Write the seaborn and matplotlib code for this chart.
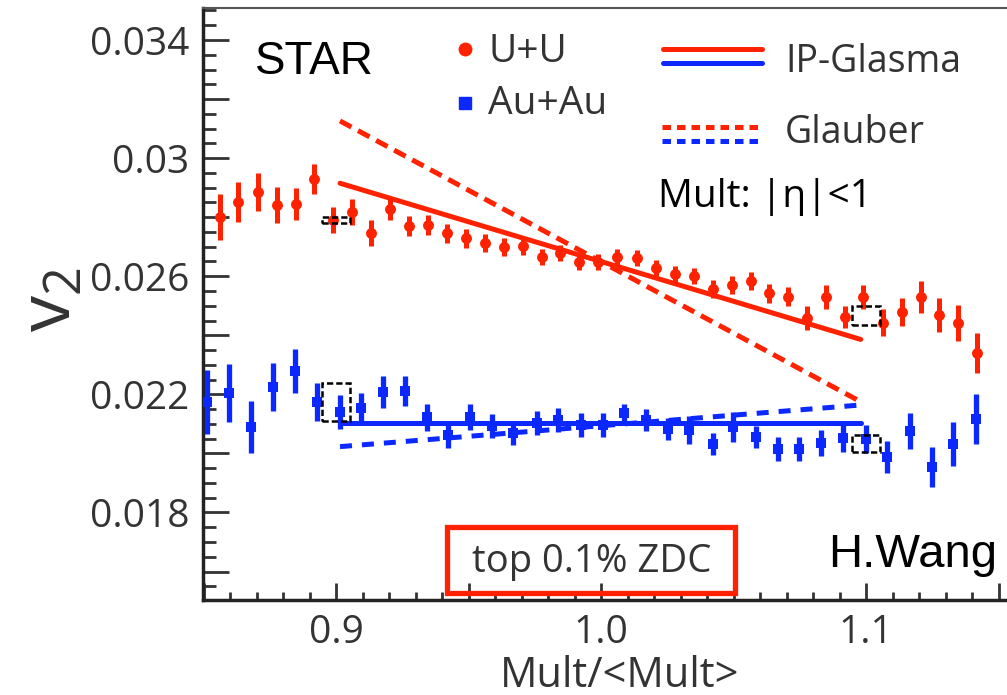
import numpy as np
import pandas as pd
import matplotlib
matplotlib.use("Agg")
import matplotlib.pyplot as plt
import seaborn as sns
from matplotlib.ticker import MultipleLocator, FuncFormatter
from matplotlib.patches import Rectangle
from matplotlib.lines import Line2D

# ---------------- data ----------------
uu_x = [0.8562, 0.8631, 0.8705, 0.8776, 0.8849, 0.8918, 0.8988, 0.9059, 0.9132, 0.9204,
        0.9275, 0.9346, 0.9418, 0.9491, 0.9562, 0.9634, 0.9705, 0.9776, 0.9845, 0.9918,
        0.9990, 1.0062, 1.0135, 1.0208, 1.0279, 1.0351, 1.0422, 1.0493, 1.0565, 1.0635,
        1.0707, 1.0778, 1.0849, 1.0921, 1.0990, 1.1063, 1.1135, 1.1206, 1.1277, 1.1348,
        1.1420]
uu_v2 = [0.02802, 0.02852, 0.02886, 0.02841, 0.02845, 0.02928, 0.02790, 0.02819, 0.02745, 0.02827,
         0.02770, 0.02774, 0.02745, 0.02728, 0.02712, 0.02698, 0.02702, 0.02666, 0.02678, 0.02649,
         0.02649, 0.02664, 0.02661, 0.02627, 0.02608, 0.02601, 0.02556, 0.02570, 0.02585, 0.02542,
         0.02531, 0.02458, 0.02529, 0.02461, 0.02529, 0.02443, 0.02480, 0.02529, 0.02469, 0.02441,
         0.02341]
uu_err = [0.00078, 0.00068, 0.00064, 0.00061, 0.00054, 0.00051, 0.00044, 0.00044, 0.00044, 0.00037,
          0.00034, 0.00034, 0.00031, 0.00031, 0.00031, 0.00031, 0.00031, 0.00027, 0.00027, 0.00027,
          0.00027, 0.00027, 0.00027, 0.00027, 0.00027, 0.00027, 0.00031, 0.00031, 0.00031, 0.00031,
          0.00031, 0.00041, 0.00041, 0.00037, 0.00041, 0.00047, 0.00047, 0.00054, 0.00058, 0.00061,
          0.00068]

au_x = [0.8512, 0.8597, 0.8679, 0.8761, 0.8845, 0.8927, 0.9015, 0.9094, 0.9177, 0.9260,
        0.9342, 0.9424, 0.9506, 0.9587, 0.9669, 0.9757, 0.9839, 0.9923, 1.0006, 1.0088,
        1.0170, 1.0252, 1.0333, 1.0421, 1.0499, 1.0585, 1.0669, 1.0748, 1.0829, 1.0914,
        1.1000, 1.1080, 1.1166, 1.1248, 1.1329, 1.1415]
au_v2 = [0.02175, 0.02206, 0.02088, 0.02226, 0.02280, 0.02175, 0.02141, 0.02153, 0.02209, 0.02211,
         0.02122, 0.02062, 0.02124, 0.02093, 0.02070, 0.02102, 0.02113, 0.02096, 0.02096, 0.02138,
         0.02113, 0.02082, 0.02079, 0.02032, 0.02088, 0.02057, 0.02014, 0.02014, 0.02034, 0.02051,
         0.02048, 0.01989, 0.02077, 0.01953, 0.02032, 0.02116]
au_err = [0.00108, 0.00098, 0.00088, 0.00081, 0.00075, 0.00064, 0.00058, 0.00051, 0.00054, 0.00051,
          0.00047, 0.00044, 0.00044, 0.00041, 0.00041, 0.00041, 0.00041, 0.00041, 0.00041, 0.00031,
          0.00037, 0.00037, 0.00047, 0.00037, 0.00051, 0.00037, 0.00041, 0.00041, 0.00044, 0.00047,
          0.00047, 0.00054, 0.00061, 0.00068, 0.00075, 0.00085]

model_x = [0.9015, 1.0980]
ipglasma_uu = [0.02915, 0.02386]
ipglasma_au = [0.02102, 0.02102]
glauber_uu = [0.03126, 0.02175]
glauber_au = [0.02023, 0.02164]

sys_x = [0.9, 1.1]
sys_uu = [0.02790, 0.02467]
sys_uu_half = [0.00011, 0.00032]
sys_au = [0.02175, 0.02034]
sys_au_half = [0.00064, 0.00028]

ytick_vals = [0.018, 0.022, 0.026, 0.030, 0.034]
ytick_labels = ["0.018", "0.022", "0.026", "0.03", "0.034"]
xtick_vals = [0.9, 1.0, 1.1]
xtick_labels = ["0.9", "1.0", "1.1"]

RED = "#ff2200"
BLUE = "#0a28ff"
GRAY = "#333333"
W, H = 1007, 695

sns.set_theme(style="ticks")
plt.rcParams["font.family"] = ["Open Sans", "DejaVu Sans"]

fig = plt.figure(figsize=(W / 100, H / 100), dpi=100)
ax = fig.add_axes([203 / W, 1 - 600 / H, 1 - 203 / W, (600 - 8) / H])


def fx(px):
    return px / W


def fy(py):
    return 1 - py / H


uu = pd.DataFrame({"x": uu_x, "v2": uu_v2, "err": uu_err})
au = pd.DataFrame({"x": au_x, "v2": au_v2, "err": au_err})

# error bars + markers
ax.errorbar(uu["x"], uu["v2"], yerr=uu["err"], fmt="none", ecolor=RED, elinewidth=3.6, capsize=0, zorder=3)
ax.errorbar(au["x"], au["v2"], yerr=au["err"], fmt="none", ecolor=BLUE, elinewidth=3.8, capsize=0, zorder=3)
sns.scatterplot(data=uu, x="x", y="v2", ax=ax, color=RED, marker="o", s=62, edgecolor=RED, linewidth=0, zorder=4)
sns.scatterplot(data=au, x="x", y="v2", ax=ax, color=BLUE, marker="s", s=46, edgecolor=BLUE, linewidth=0, zorder=4)

# model lines
mdf = pd.DataFrame({"x": model_x, "ipu": ipglasma_uu, "ipa": ipglasma_au, "glu": glauber_uu, "gla": glauber_au})
sns.lineplot(data=mdf, x="x", y="ipu", ax=ax, color=RED, lw=3.6, zorder=5)
sns.lineplot(data=mdf, x="x", y="ipa", ax=ax, color=BLUE, lw=3.6, zorder=5)
l1 = sns.lineplot(data=mdf, x="x", y="glu", ax=ax, color=RED, lw=3.6, zorder=5)
l1.lines[-1].set_dashes((2.6, 1.5))
l2 = sns.lineplot(data=mdf, x="x", y="gla", ax=ax, color=BLUE, lw=3.6, zorder=5)
l2.lines[-1].set_dashes((2.4, 2.0))

# systematic boxes
for xs, ys, hs in [(sys_x, sys_uu, sys_uu_half), (sys_x, sys_au, sys_au_half)]:
    for xc, yc, h in zip(xs, ys, hs):
        ax.add_patch(Rectangle((xc - 0.0053, yc - h), 0.0106, 2 * h, fill=False, ec="black",
                               lw=1.8, ls=(0, (2.5, 1.2)), zorder=6))

ax.set_xlim(0.8498, 1.1532)
ax.set_ylim(0.015036, 0.035084)

# ticks
ylab_map = dict((round(a, 4), b) for a, b in zip(ytick_vals, ytick_labels))
xlab_map = dict((round(a, 3), b) for a, b in zip(xtick_vals, xtick_labels))
ax.yaxis.set_major_locator(MultipleLocator(0.002))
ax.yaxis.set_minor_locator(MultipleLocator(0.0005))
ax.yaxis.set_major_formatter(FuncFormatter(lambda v, p: ylab_map.get(round(v, 4), "")))
ax.xaxis.set_major_locator(MultipleLocator(0.05))
ax.xaxis.set_minor_locator(MultipleLocator(0.01))
ax.xaxis.set_major_formatter(FuncFormatter(lambda v, p: xlab_map.get(round(v, 3), "")))
ax.tick_params(axis="y", which="major", direction="in", length=19, width=2, color=GRAY,
               labelsize=28, labelcolor=GRAY, pad=10, left=True, right=False)
ax.tick_params(axis="y", which="minor", direction="in", length=9, width=2, color=GRAY, left=True, right=False)
ax.tick_params(axis="x", which="major", direction="in", length=12, width=2, color=GRAY,
               labelsize=28, labelcolor=GRAY, pad=10, bottom=True, top=False)
ax.tick_params(axis="x", which="minor", direction="in", length=6, width=2, color=GRAY, bottom=True, top=False)

for s in ["left", "bottom"]:
    ax.spines[s].set_linewidth(2.5)
    ax.spines[s].set_color("#222222")
ax.spines["top"].set_linewidth(1.5)
ax.spines["top"].set_color("#555555")
ax.spines["right"].set_visible(False)
ax.set_facecolor("white")

ax.set_xlabel("Mult/<Mult>", fontsize=30, color=GRAY)
ax.xaxis.set_label_coords((620 - 203) / (W - 203), -(676 - 600) / 592, transform=ax.transAxes)
ax.xaxis.label.set_va("center")
ax.set_ylabel(r"$\mathregular{v_2}$", fontsize=52, color=GRAY)
ax.yaxis.set_label_coords(-(203 - 52) / (W - 203), (600 - 300) / 592, transform=ax.transAxes)
ax.yaxis.label.set_va("center")

# annotations
fig.text(fx(255), fy(62), "STAR", fontsize=33, family="Liberation Sans", color="black", va="center", ha="left")
fig.text(fx(828), fy(555), "H.Wang", fontsize=34, family="Liberation Sans", color="black", va="center", ha="left")
fig.text(fx(592), fy(562), "top 0.1% ZDC", fontsize=27.5, color=GRAY, va="center", ha="center")
fig.add_artist(Rectangle((fx(447), fy(593)), fx(735) - fx(447), fy(527) - fy(593), transform=fig.transFigure,
                         fill=False, ec=RED, lw=3.8))

# legend (hand-built)
fig.add_artist(Line2D([fx(465)], [fy(49)], marker="o", ms=9, color=RED, mec=RED, ls="none", transform=fig.transFigure))
fig.add_artist(Line2D([fx(465)], [fy(103)], marker="s", ms=8, color=BLUE, mec=BLUE, ls="none", transform=fig.transFigure))
fig.text(fx(488), fy(52), "U+U", fontsize=28, color=GRAY, va="center", ha="left")
fig.text(fx(488), fy(104), "Au+Au", fontsize=28, color=GRAY, va="center", ha="left")
fig.add_artist(Line2D([fx(663), fx(762)], [fy(49), fy(49)], color=RED, lw=3.6, transform=fig.transFigure))
fig.add_artist(Line2D([fx(663), fx(762)], [fy(63), fy(63)], color=BLUE, lw=3.6, transform=fig.transFigure))
fig.add_artist(Line2D([fx(662), fx(760)], [fy(127), fy(127)], color=RED, lw=3.6, dashes=(1.7, 1.2), transform=fig.transFigure))
fig.add_artist(Line2D([fx(662), fx(760)], [fy(141), fy(141)], color=BLUE, lw=3.6, dashes=(1.7, 1.2), transform=fig.transFigure))
fig.text(fx(785), fy(62), "IP-Glasma", fontsize=27, color=GRAY, va="center", ha="left")
fig.text(fx(785), fy(133), "Glauber", fontsize=27, color=GRAY, va="center", ha="left")
fig.text(fx(658), fy(197), "Mult: |η|<1", fontsize=28, color="black", va="center", ha="left")

fig.savefig("out.png", dpi=100, facecolor="white")
